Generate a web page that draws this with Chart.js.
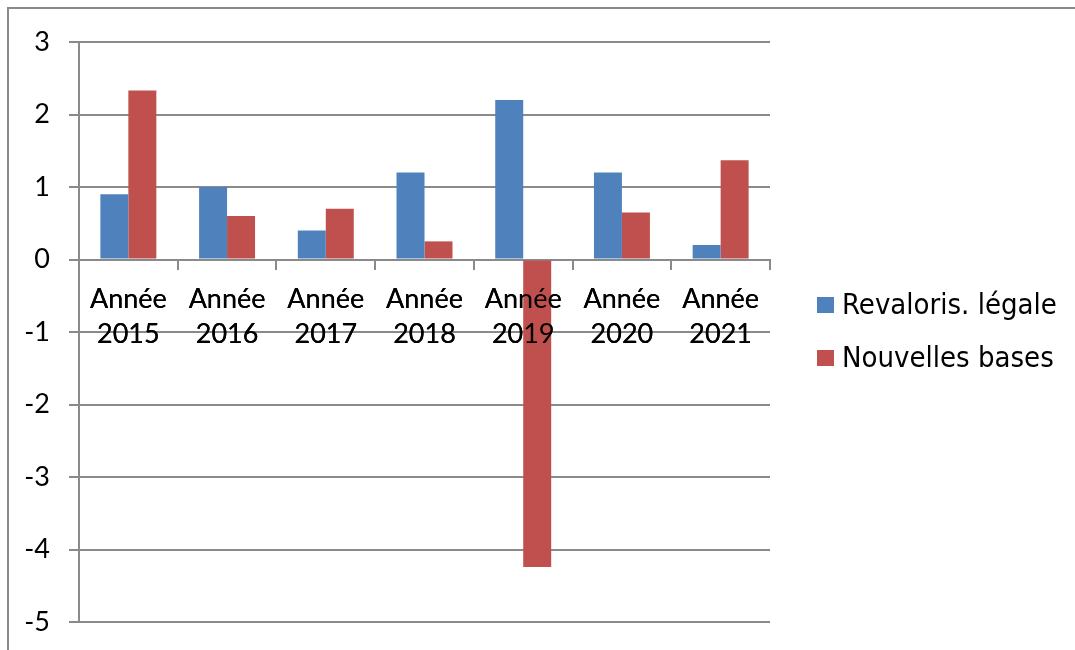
<!DOCTYPE html>
<html lang="fr">
<head>
<meta charset="utf-8">
<title>Revalorisation et nouvelles bases</title>
<script src="https://cdn.jsdelivr.net/npm/chart.js@4.4.1/dist/chart.umd.min.js"></script>
<style>
	html, body { margin: 0; padding: 0; background: #fff; overflow: hidden; }
	#wrap { position: relative; width: 1075px; height: 650px; }
	#frame { position: absolute; left: 7px; top: 7px; width: 2000px; height: 2000px; border: 2px solid #8a8a8a; box-sizing: border-box; }
	#chart { position: absolute; left: 0; top: 0; }
</style>
</head>
<body>
<div id="wrap">
	<div id="frame"></div>
	<canvas id="chart" width="1075" height="650"></canvas>
</div>
<script>
// categories and series
const years = ['2015', '2016', '2017', '2018', '2019', '2020', '2021'];
const categories = years.map(y => ['Année', y]);
const revalorisLegale = [0.9, 1.0, 0.4, 1.2, 2.2, 1.2, 0.2];
const nouvellesBases = [2.33, 0.6, 0.7, 0.25, -4.24, 0.65, 1.37];
const seriesNames = ['Revaloris. légale', 'Nouvelles bases'];
const seriesColors = ['#4F81BD', '#C0504D'];
const yTicks = [-5, -4, -3, -2, -1, 0, 1, 2, 3];

const GRID = '#8a8a8a';
const AXIS_FONT = { family: 'Lato, "Open Sans", sans-serif', size: 27 };

// legend drawn on the right, squares + labels
const sideLegend = {
	id: 'sideLegend',
	afterDraw(chart) {
		const ctx = chart.ctx;
		ctx.save();
		ctx.font = '29px "DejaVu Sans Condensed", "DejaVu Sans", sans-serif';
		ctx.textBaseline = 'middle';
		const rows = [305, 358];
		chart.data.datasets.forEach((ds, i) => {
			const y = rows[i];
			ctx.fillStyle = ds.backgroundColor;
			ctx.fillRect(817, y - 8, 17, 16);
			ctx.fillStyle = '#000';
			ctx.fillText(ds.label, 842, y + 1);
		});
		ctx.restore();
	}
};

// category labels sit on top of the bars (the 2019 bar crosses them)
const labelsOnTop = {
	id: 'labelsOnTop',
	afterDatasetsDraw(chart) {
		chart.scales.x.drawLabels(chart.chartArea);
	}
};

new Chart(document.getElementById('chart'), {
	type: 'bar',
	data: {
		labels: categories,
		datasets: [
			{ label: seriesNames[0], data: revalorisLegale, backgroundColor: seriesColors[0] },
			{ label: seriesNames[1], data: nouvellesBases, backgroundColor: seriesColors[1] }
		]
	},
	options: {
		responsive: false,
		animation: false,
		events: [],
		datasets: { bar: { barPercentage: 1, categoryPercentage: 0.567 } },
		layout: { padding: { left: 0, top: 42, right: 305, bottom: 28 } },
		plugins: { legend: { display: false }, tooltip: { enabled: false } },
		scales: {
			x: {
				position: { y: 0 },
				afterFit(scale) { scale.height = 0; scale.paddingTop = 0; scale.paddingBottom = 0; },
				grid: { display: true, drawOnChartArea: false, drawTicks: true, tickLength: 9, color: GRID, lineWidth: 2, offset: true },
				border: { display: true, color: GRID, width: 2 },
				ticks: { color: '#000', font: { ...AXIS_FONT, lineHeight: 1.3 }, padding: 13, maxRotation: 0, autoSkip: false }
			},
			y: {
				min: -5,
				max: 3,
				// fixed gutter; the plot box comes from layout padding only
				afterFit(scale) { scale.width = 79; scale.paddingTop = 0; scale.paddingBottom = 0; },
				afterBuildTicks(scale) { scale.ticks = yTicks.map(v => ({ value: v })); },
				grid: { color: GRID, lineWidth: 2, tickLength: 10 },
				border: { display: true, color: GRID, width: 2 },
				ticks: { color: '#000', font: AXIS_FONT, padding: 19 }
			}
		}
	},
	plugins: [sideLegend, labelsOnTop]
});
</script>
</body>
</html>
